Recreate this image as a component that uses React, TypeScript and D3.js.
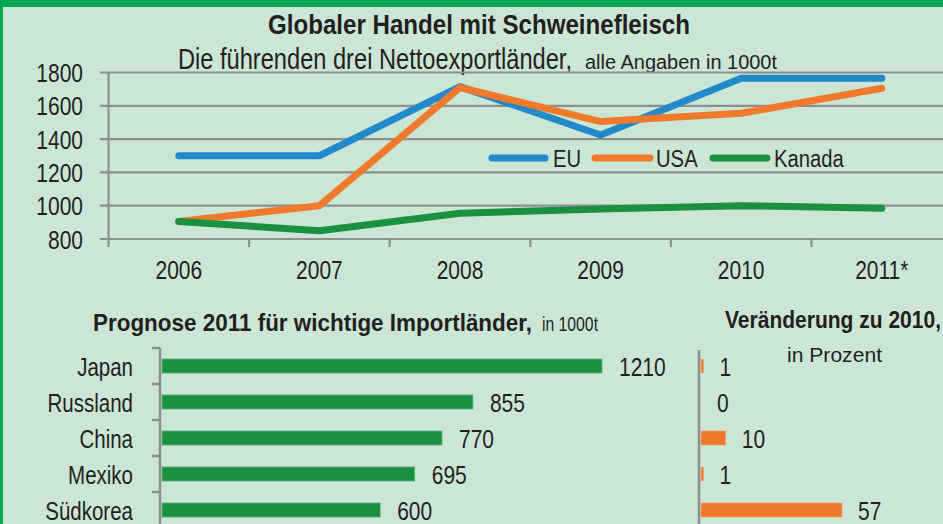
import React from "react";
import * as d3 from "d3";

const years = ["2006", "2007", "2008", "2009", "2010", "2011*"];
const euValues = [1300, 1300, 1715, 1425, 1765, 1765];
const usaValues = [905, 1000, 1710, 1505, 1555, 1705];
const kanadaValues = [905, 850, 955, 980, 1000, 985];
const yTicks = [800, 1000, 1200, 1400, 1600, 1800];

const countries = ["Japan", "Russland", "China", "Mexiko", "Südkorea"];
const imports2011 = [1210, 855, 770, 695, 600];
const changePct = [1, 0, 10, 1, 57];

const seriesNames = ["EU", "USA", "Kanada"];
const seriesColors = ["#2289cb", "#f07a2b", "#1b9041"];

const FONT = "'Liberation Sans',Arial,sans-serif";
const BG = "#cce6d5";
const GRID = "#8e8e8e";
const TXT = "#231f20";

type TProps = {
  x: number;
  y: number;
  size: number;
  sx?: number;
  anchor?: "start" | "middle" | "end";
  bold?: boolean;
  children: React.ReactNode;
};

function NT({ x, y, size, sx = 0.82, anchor = "start", bold = false, children }: TProps) {
  return (
    <text
      transform={`translate(${x},${y}) scale(${sx},1)`}
      textAnchor={anchor}
      fontSize={size}
      fontWeight={bold ? "bold" : "normal"}
      fill={TXT}
    >
      {children}
    </text>
  );
}

function FT({ x, y, size, len, anchor = "start", bold = false, children }: { x: number; y: number; size: number; len: number; anchor?: "start" | "middle" | "end"; bold?: boolean; children: React.ReactNode }) {
  return (
    <text x={x} y={y} textAnchor={anchor} fontSize={size} fontWeight={bold ? "bold" : "normal"} fill={TXT} textLength={len} lengthAdjust="spacingAndGlyphs">
      {children}
    </text>
  );
}

export default function App() {
  const W = 943;
  const H = 524;

  // Top line chart
  const x = d3.scaleBand<string>().domain(years).range([108.5, 108.5 + 140.6 * 6]).padding(0);
  const y = d3.scaleLinear().domain([800, 1800]).range([239, 72.5]);
  const series = [euValues, usaValues, kanadaValues];
  const line = d3
    .line<number>()
    .x((_, i) => (x(years[i]) as number) + x.bandwidth() / 2)
    .y((d) => y(d));

  // Bottom bar charts
  const band = d3.scaleBand<string>().domain(countries).range([348, 348 + 36 * 5]).paddingInner(0.61).paddingOuter(0.305);
  const step = band.step();
  const xb = d3.scaleLinear().domain([0, 1210]).range([162, 602]);
  const xc = d3.scaleLinear().domain([0, 57]).range([701, 842]);

  const legendPos = [
    [492, 545, 553],
    [595, 650, 656],
    [713, 767, 774],
  ];

  return (
    <svg width={W} height={H} style={{ position: "absolute", left: 0, top: 0, display: "block" }} fontFamily={FONT}>
      <rect x={0} y={0} width={W} height={H} fill={BG} />
      <rect x={0} y={0} width={W} height={7} fill="#00a651" />
      <rect x={0} y={0} width={3} height={H} fill="#00a651" />

      {/* Titles */}
      <FT x={479} y={34} anchor="middle" bold size={28} len={422}>
        Globaler Handel mit Schweinefleisch
      </FT>
      <FT x={178} y={69} size={29} len={394}>
        Die führenden drei Nettoexportländer,
      </FT>
      <FT x={585} y={69} size={20} len={192}>
        alle Angaben in 1000t
      </FT>

      {/* gridlines and y axis */}
      {yTicks.map((t) => (
        <g key={t}>
          <line x1={100} x2={W} y1={y(t)} y2={y(t)} stroke={GRID} strokeWidth={2.2} />
          <NT x={83} y={y(t) + 9.5} anchor="end" size={25.6}>
            {t}
          </NT>
        </g>
      ))}
      <line x1={108.5} x2={108.5} y1={y(1800)} y2={247} stroke={GRID} strokeWidth={2.2} />
      {years.map((yr) => (
        <g key={yr}>
          <line x1={(x(yr) as number) + x.bandwidth()} x2={(x(yr) as number) + x.bandwidth()} y1={239} y2={247} stroke={GRID} strokeWidth={2.2} />
          <NT x={(x(yr) as number) + x.bandwidth() / 2} y={279} anchor="middle" size={25.6}>
            {yr}
          </NT>
        </g>
      ))}

      {/* lines */}
      {series.map((s, i) => (
        <path key={i} d={line(s) || ""} fill="none" stroke={seriesColors[i]} strokeWidth={7} strokeLinecap="round" strokeLinejoin="round" />
      ))}

      {/* legend */}
      {legendPos.map((p, i) => (
        <g key={i}>
          <line x1={p[0]} x2={p[1]} y1={158} y2={158} stroke={seriesColors[i]} strokeWidth={7} strokeLinecap="round" />
          <NT x={p[2]} y={166.5} size={24.7}>
            {seriesNames[i]}
          </NT>
        </g>
      ))}

      {/* Bottom-left bar chart */}
      <FT x={93} y={331} bold size={24.5} len={439}>
        Prognose 2011 für wichtige Importländer,
      </FT>
      <FT x={542} y={331} size={21} len={56}>
        in 1000t
      </FT>
      <line x1={160} x2={160} y1={348} y2={H} stroke={GRID} strokeWidth={2.5} />
      {countries.map((c, i) => {
        const boundary = 348 + i * step;
        const cy = (band(c) as number) + band.bandwidth() / 2;
        return (
          <g key={c}>
            <line x1={152} x2={160} y1={boundary} y2={boundary} stroke={GRID} strokeWidth={2.5} />
            <rect x={xb(0)} y={band(c)} width={xb(imports2011[i]) - xb(0)} height={band.bandwidth()} fill="#1b9041" stroke="#5cb67a" strokeWidth={0.8} />
            <NT x={xb(imports2011[i]) + 17} y={cy + 10} size={25.6}>
              {imports2011[i]}
            </NT>
            <NT x={133} y={cy + 10} anchor="end" size={25}>
              {c}
            </NT>
            {changePct[i] > 0 && (
              <rect x={xc(0)} y={band(c)} width={Math.max(1.5, xc(changePct[i]) - xc(0))} height={band.bandwidth()} fill="#f07a2b" stroke="#f5a673" strokeWidth={0.6} />
            )}
            <NT x={xc(changePct[i]) + 16} y={cy + 10} size={25.6}>
              {changePct[i]}
            </NT>
          </g>
        );
      })}

      {/* Bottom-right chart */}
      <FT x={725} y={328} bold size={23.5} len={216}>
        Veränderung zu 2010,
      </FT>
      <FT x={787} y={362} size={21} len={95}>
        in Prozent
      </FT>
      <line x1={699} x2={699} y1={350} y2={H} stroke={GRID} strokeWidth={2.5} />
    </svg>
  );
}
